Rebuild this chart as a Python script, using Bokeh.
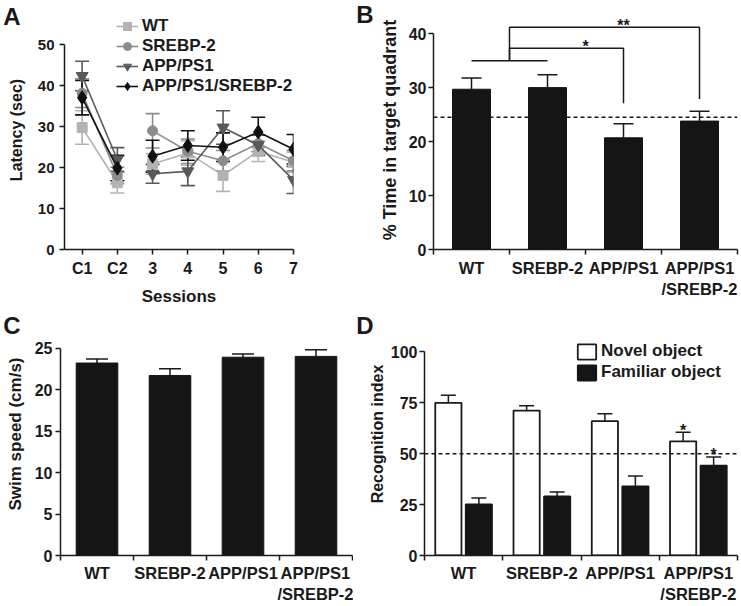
from bokeh.plotting import figure
from bokeh.models import (ColumnDataSource, Whisker, TeeHead, Range1d, FixedTicker,
                          Span, Legend, LegendItem, LinearAxis)
from bokeh.layouts import column, row
from bokeh.embed import file_html
from bokeh.resources import INLINE
from bokeh.core.properties import value

FONT = "Liberation Sans"
INK = "#1a1a1a"

# ---------------- data ----------------
# Panel A: escape latency per session
sessions = ["C1", "C2", "3", "4", "5", "6", "7"]
wt_lat = [29.8, 16.3, 20.9, 23.6, 18.1, 24.0, 21.3]
wt_err = [4.1, 2.5, 2.5, 3.0, 3.9, 2.5, 2.5]
srebp_lat = [38.2, 18.1, 29.0, 24.0, 21.7, 25.9, 21.7]
srebp_err = [3.5, 2.0, 4.2, 3.0, 2.5, 2.0, 2.5]
app_lat = [42.4, 22.0, 18.5, 19.1, 29.8, 25.5, 17.0]
app_err = [3.6, 2.9, 2.3, 3.5, 4.1, 2.5, 3.3]
apps_lat = [37.1, 19.9, 22.8, 25.4, 25.0, 28.7, 24.5]
apps_err = [4.2, 3.1, 3.9, 3.6, 3.5, 3.6, 3.6]

# genotypes (bar panels)
genotypes = ["WT", "SREBP-2", "APP/PS1", "APP/PS1\n/SREBP-2"]

# Panel B: % time in target quadrant
quad_mean = [29.7, 30.0, 20.7, 23.8]
quad_err = [2.1, 2.4, 2.6, 1.8]
quad_chance = 24.5
# significance: (label, target group, bracket height, bracket foot)
sig_join = 35.0
sig_brackets = [("*", 2, 37.3, 27.1), ("**", 3, 41.2, 27.9)]

# Panel C: swim speed
speed_mean = [23.2, 21.7, 23.9, 24.0]
speed_err = [0.5, 0.8, 0.4, 0.8]

# Panel D: recognition index
novel = [75.0, 71.2, 66.0, 56.1]
novel_err = [3.8, 2.4, 3.6, 4.5]
familiar = [25.1, 29.0, 34.0, 44.2]
familiar_err = [3.2, 2.2, 5.1, 4.2]
ri_chance = 50


def style_axes(p, tick_size="16px"):
    p.outline_line_color = None
    p.xgrid.visible = False
    p.ygrid.visible = False
    p.toolbar.logo = None
    for ax in p.axis:
        ax.axis_line_width = 1.5
        ax.axis_line_color = INK
        ax.major_tick_line_width = 1.5
        ax.major_tick_line_color = INK
        ax.minor_tick_line_width = 1.5
        ax.major_tick_out = 5
        ax.major_tick_in = 0
        ax.minor_tick_line_color = None
        ax.major_label_text_font = FONT
        ax.major_label_text_font_style = "bold"
        ax.major_label_text_font_size = tick_size
        ax.major_label_text_color = INK
        ax.axis_label_text_font = FONT
        ax.axis_label_text_font_style = "bold"
        ax.axis_label_text_font_size = "16px"
        ax.axis_label_text_color = INK
        ax.major_label_standoff = 3


def category_xaxis(p, n, names):
    centers = [i + 0.5 for i in range(n)]
    ax = p.xaxis[0]
    ax.ticker = FixedTicker(ticks=centers, minor_ticks=list(range(n + 1)))
    ax.major_tick_line_color = None
    ax.minor_tick_line_color = INK
    ax.minor_tick_out = 5
    ax.minor_tick_in = 0
    ax.major_label_overrides = {c: nm for c, nm in zip(centers, names)}
    ax.major_label_text_font_size = "16.5px"
    return centers


def panel_letter(p, txt, side, at, standoff, size="24px"):
    """Panel letter drawn as the single tick label of a bare axis placed at data position `at`."""
    ax = LinearAxis(ticker=FixedTicker(ticks=[at]), bounds=(at - 0.01, at + 0.01),
                    axis_line_color=None, major_tick_line_color=None,
                    minor_tick_line_color=None, major_tick_out=0, major_tick_in=0,
                    major_label_overrides={at: txt}, major_label_standoff=standoff,
                    major_label_text_font=FONT, major_label_text_font_style="bold",
                    major_label_text_font_size=size, major_label_text_color=INK)
    p.add_layout(ax, side)


# ---------------- Panel A ----------------
pA = figure(width=353, height=308, output_backend="svg", toolbar_location=None,
            x_range=Range1d(-0.5, 6), y_range=Range1d(0, 58.4),
            min_border_left=61, min_border_right=60, min_border_top=8, min_border_bottom=50)
style_axes(pA, "15px")
xs = list(range(len(sessions)))
pA.xaxis.ticker = FixedTicker(ticks=xs)
pA.xaxis.major_label_overrides = {i: s for i, s in zip(xs, sessions)}
pA.xaxis.major_label_text_font_size = "16px"
pA.xaxis.axis_label = "Sessions"
pA.xaxis.axis_label_text_font_size = "17px"
pA.xaxis.axis_label_standoff = 7
pA.xaxis.major_label_standoff = 5
pA.yaxis.ticker = FixedTicker(ticks=[0, 10, 20, 30, 40, 50])
pA.yaxis.bounds = (0, 50)
pA.yaxis.axis_label = "Latency (sec)"
pA.yaxis.axis_label_standoff = 10
pA.yaxis.major_label_standoff = 5

series = [
    ("WT", wt_lat, wt_err, "#b3b3b3", "square", 10),
    ("SREBP-2", srebp_lat, srebp_err, "#8c8c8c", "circle", 10),
    ("APP/PS1", app_lat, app_err, "#595959", "inverted_triangle", 12),
    ("APP/PS1/SREBP-2", apps_lat, apps_err, "#111111", "diamond", 14),
]
itemsA = []
for name, ys, es, col, mk, sz in series:
    src = ColumnDataSource(dict(x=xs, y=ys,
                                lo=[y - e for y, e in zip(ys, es)],
                                hi=[y + e for y, e in zip(ys, es)]))
    pA.add_layout(Whisker(source=src, base="x", lower="lo", upper="hi",
                          line_color=col, line_width=1.6,
                          upper_head=TeeHead(size=14, line_color=col, line_width=1.6),
                          lower_head=TeeHead(size=14, line_color=col, line_width=1.6)))
    r1 = pA.line(xs[:2], ys[:2], line_color=col, line_width=1.6)
    r2 = pA.line(xs[2:], ys[2:], line_color=col, line_width=1.6)
    r3 = pA.scatter("x", "y", source=src, marker=mk, size=sz, fill_color=col, line_color=col)
    itemsA.append(LegendItem(label=name, renderers=[r1, r3]))
legA = Legend(items=itemsA, location=(52, 153), glyph_width=22, glyph_height=20,
              label_height=20, spacing=0, padding=0, margin=0, label_standoff=4,
              border_line_color=None, background_fill_alpha=0,
              label_text_font=FONT, label_text_font_style="bold",
              label_text_font_size="17px", label_text_color=INK)
pA.add_layout(legA)
panel_letter(pA, "A", "left", 56.9, -16)

# ---------------- Panel B ----------------
pB = figure(width=388, height=308, output_backend="svg", toolbar_location=None,
            x_range=Range1d(0, 4), y_range=Range1d(0, 44.29),
            min_border_left=70, min_border_right=4, min_border_top=10, min_border_bottom=50)
style_axes(pB)
cB = category_xaxis(pB, len(genotypes), genotypes)
pB.xaxis.major_label_standoff = 4
pB.yaxis.ticker = FixedTicker(ticks=[0, 10, 20, 30, 40])
pB.yaxis.bounds = (0, 40)
pB.yaxis.axis_label = "% Time in target quadrant"
pB.yaxis.axis_label_text_font_size = "18px"
pB.yaxis.axis_label_standoff = 6
pB.yaxis.major_label_standoff = 2
pB.add_layout(Span(location=quad_chance, dimension="width", line_color=INK,
                   line_width=1.5, line_dash="4 3"))
srcB = ColumnDataSource(dict(x=cB, top=quad_mean,
                             hi=[m + e for m, e in zip(quad_mean, quad_err)]))
pB.add_layout(Whisker(source=srcB, base="x", lower="top", upper="hi",
                      line_color=INK, line_width=1.5, lower_head=None,
                      upper_head=TeeHead(size=20, line_color=INK, line_width=1.5)))
pB.vbar(x="x", top="top", width=0.5, source=srcB, fill_color="#151515", line_color="#151515")
# significance brackets
pB.line([cB[0], cB[1]], [sig_join, sig_join], line_color=INK, line_width=1.5)
mid = (cB[0] + cB[1]) / 2
for lab, tgt, h, foot in sig_brackets:
    pB.line([mid, mid, cB[tgt], cB[tgt]], [sig_join, h, h, foot], line_color=INK, line_width=1.5)
pB.text(x=[2.0, 2.5], y=[sig_brackets[0][2] + 0.4, sig_brackets[1][2] + 0.4],
        text=[b[0] for b in sig_brackets], text_align="center", text_baseline="alphabetic",
        text_font=value(FONT), text_font_size="16px", text_font_style="bold", text_color=INK)
panel_letter(pB, "B", "left", 43.48, 3)

# ---------------- Panel C ----------------
pC = figure(width=353, height=298, output_backend="svg", toolbar_location=None,
            x_range=Range1d(0, 4), y_range=Range1d(0, 29.29),
            min_border_left=57, min_border_right=1, min_border_top=4, min_border_bottom=48)
style_axes(pC)
cC = category_xaxis(pC, len(genotypes), genotypes)
pC.yaxis.ticker = FixedTicker(ticks=[0, 5, 10, 15, 20, 25])
pC.yaxis.bounds = (0, 25)
pC.yaxis.axis_label = "Swim speed (cm/s)"
pC.yaxis.axis_label_text_font_size = "17px"
pC.yaxis.axis_label_standoff = 7
pC.yaxis.major_label_standoff = 3
srcC = ColumnDataSource(dict(x=cC, top=speed_mean,
                             hi=[m + e for m, e in zip(speed_mean, speed_err)]))
pC.add_layout(Whisker(source=srcC, base="x", lower="top", upper="hi",
                      line_color=INK, line_width=1.5, lower_head=None,
                      upper_head=TeeHead(size=22, line_color=INK, line_width=1.5)))
pC.vbar(x="x", top="top", width=0.57, source=srcC, fill_color="#151515", line_color="#151515")
panel_letter(pC, "C", "left", 27.74, -18)

# ---------------- Panel D ----------------
pD = figure(width=388, height=298, output_backend="svg", toolbar_location=None,
            x_range=Range1d(0, 4), y_range=Range1d(0, 119.4),
            min_border_left=69, min_border_right=4, min_border_top=4, min_border_bottom=48)
style_axes(pD)
cD = category_xaxis(pD, len(genotypes), genotypes)
pD.yaxis.ticker = FixedTicker(ticks=[0, 25, 50, 75, 100])
pD.yaxis.bounds = (0, 100)
pD.yaxis.axis_label = "Recognition index"
pD.yaxis.axis_label_standoff = 2
pD.yaxis.major_label_standoff = 2
pD.add_layout(Span(location=ri_chance, dimension="width", line_color=INK,
                   line_width=1.5, line_dash="4 3"))
off = 0.195
srcN = ColumnDataSource(dict(x=[c - off for c in cD], top=novel,
                             hi=[m + e for m, e in zip(novel, novel_err)]))
srcF = ColumnDataSource(dict(x=[c + off for c in cD], top=familiar,
                             hi=[m + e for m, e in zip(familiar, familiar_err)]))
for s in (srcN, srcF):
    pD.add_layout(Whisker(source=s, base="x", lower="top", upper="hi",
                          line_color=INK, line_width=1.5, lower_head=None,
                          upper_head=TeeHead(size=15, line_color=INK, line_width=1.5)))
rN = pD.vbar(x="x", top="top", width=0.335, source=srcN, fill_color="white",
             line_color=INK, line_width=1.8)
rF = pD.vbar(x="x", top="top", width=0.335, source=srcF, fill_color="#151515",
             line_color="#151515", line_width=1.8)
pD.text(x=[srcN.data["x"][3], srcF.data["x"][3]],
        y=[srcN.data["hi"][3] + 1, srcF.data["hi"][3] + 1], text=["*", "*"],
        text_align="center", text_baseline="alphabetic", text_font=value(FONT),
        text_font_size="16px", text_font_style="bold", text_color=INK)
legD = Legend(items=[LegendItem(label="Novel object", renderers=[rN]),
                     LegendItem(label="Familiar object", renderers=[rF])],
              location=(151, 173), glyph_width=23, glyph_height=19, label_height=19,
              spacing=1, padding=0, margin=0, label_standoff=3,
              border_line_color=None, background_fill_alpha=0,
              label_text_font=FONT, label_text_font_style="bold",
              label_text_font_size="17px", label_text_color=INK)
pD.add_layout(legD)
panel_letter(pD, "D", "left", 113.1, -8)

layout = column(row(pA, pB), row(pC, pD))
open("out.html", "w").write(file_html(layout, INLINE))
